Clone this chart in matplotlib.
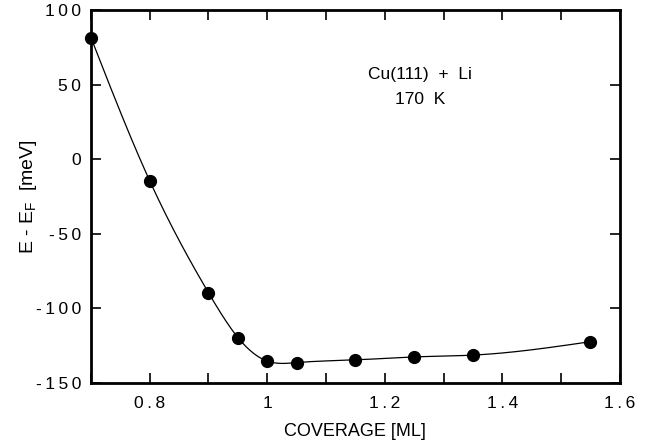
import numpy as np
import matplotlib
matplotlib.use("Agg")
import matplotlib.pyplot as plt
from matplotlib.ticker import MultipleLocator

plt.rcParams['font.family'] = ['Liberation Sans', 'DejaVu Sans']
plt.rcParams['mathtext.fontset'] = 'custom'
plt.rcParams['mathtext.rm'] = 'Liberation Sans'

# coverage (ML) and E - E_F (meV)
coverage = [0.70, 0.80, 0.90, 0.95, 1.00, 1.05, 1.15, 1.25, 1.35, 1.55]
energy = [81.5, -14.5, -89.5, -119.5, -135.3, -136.3, -134.5, -132.5, -131.3, -122.3]

xticks = [0.8, 1.0, 1.2, 1.4, 1.6]
xticklabels = ['0.8', '1', '1.2', '1.4', '1.6']
yticks = [-150, -100, -50, 0, 50, 100]
yticklabels = ['-150', '-100', '-50', '0', '50', '100']


def spaced(s):
    # old plotting program spreads the digits a bit
    return '\u2009'.join(s)


def natural_spline(x, y, n=400):
    # plain natural cubic spline, only used to draw the smooth guide line
    x = np.asarray(x, float)
    y = np.asarray(y, float)
    h = np.diff(x)
    m = len(x)
    A = np.zeros((m, m))
    b = np.zeros(m)
    A[0, 0] = 1
    A[-1, -1] = 1
    for i in range(1, m - 1):
        A[i, i - 1] = h[i - 1]
        A[i, i] = 2 * (h[i - 1] + h[i])
        A[i, i + 1] = h[i]
        b[i] = 3 * ((y[i + 1] - y[i]) / h[i] - (y[i] - y[i - 1]) / h[i - 1])
    c = np.linalg.solve(A, b)
    xs = np.linspace(x[0], x[-1], n)
    idx = np.clip(np.searchsorted(x, xs) - 1, 0, m - 2)
    dx = xs - x[idx]
    hb = h[idx]
    bb = (y[idx + 1] - y[idx]) / hb - hb * (2 * c[idx] + c[idx + 1]) / 3
    dd = (c[idx + 1] - c[idx]) / (3 * hb)
    ys = y[idx] + bb * dx + c[idx] * dx ** 2 + dd * dx ** 3
    return xs, ys


fig = plt.figure(figsize=(6.47, 4.45), dpi=100)
ax = fig.add_axes([0.1406, 0.1393, 0.8174, 0.8382])

xs, ys = natural_spline(coverage, energy)
ax.plot(xs, ys, color='black', lw=0.9)
ax.plot(coverage, energy, 'o', color='black', ms=8.5, clip_on=False, zorder=3)

ax.set_xlim(0.7, 1.6)
ax.set_ylim(-150, 100)
ax.xaxis.set_minor_locator(MultipleLocator(0.1))
ax.set_xticks(xticks)
ax.set_xticklabels([spaced(t) for t in xticklabels])
ax.set_yticks(yticks)
ax.set_yticklabels([spaced(t) for t in yticklabels])

for s in ax.spines.values():
    s.set_linewidth(2)
ax.tick_params(which='both', direction='in', top=True, right=True,
               width=1.2, labelsize=12.5, length=7)
ax.tick_params(axis='y', pad=7)
ax.tick_params(axis='x', pad=9)

ax.set_xlabel('COVERAGE [ML]', fontsize=13, labelpad=9)
ax.set_ylabel(r'E - E$_\mathregular{F}$  [meV]', fontsize=14, labelpad=-2)

ax.text(1.26, 57, 'Cu(111)  +  Li', fontsize=12.5, ha='center', va='center')
ax.text(1.26, 40, '170  K', fontsize=12.5, ha='center', va='center')

fig.savefig('out.png', dpi=100)
